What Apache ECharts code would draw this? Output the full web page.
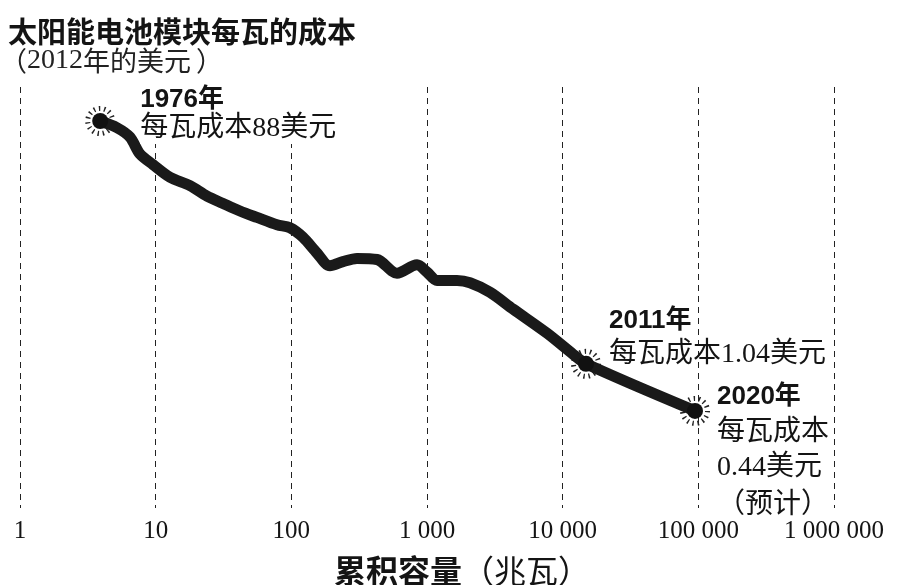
<!DOCTYPE html>
<html>
<head>
<meta charset="utf-8">
<script src="https://cdn.jsdelivr.net/npm/echarts@6/dist/echarts.min.js"></script>
<style>
  html, body { margin: 0; padding: 0; background: #fff; }
  #chart { width: 910px; height: 585px; }
</style>
</head>
<body>
<div id="chart"></div>
<script>
// Cumulative installed capacity, megawatts
const capacityMW = [3.9, 5.19, 6.47, 7.66, 9.56, 12.75, 17.9, 23.9, 31.4, 41.8, 55.8, 78.4,
  97.7, 121.9, 154.6, 192.7, 240.3, 304.8, 428, 601, 844, 1000, 1185, 1664, 2075, 2913,
  4303, 7663, 11920, 14860, 94500];
// Module cost per watt, 2012 US dollars
const costPerWatt = [88, 77.8, 65.5, 48.1, 39.7, 31.5, 27.0, 22.3, 19.5, 17.0, 15.1, 13.2,
  12.5, 10.5, 7.87, 6.24, 6.74, 7.14, 7.00, 5.45, 6.36, 5.56, 4.77, 4.77, 4.58, 3.85,
  2.83, 1.82, 1.24, 1.04, 0.44];
// Highlighted years
const milestoneYears = ['1976', '2011', '2020'];
const milestoneCapacity = [3.9, 14860, 94500];
const milestoneCost = [88, 1.04, 0.44];
// Decade tick labels of the capacity axis
const xTickLabels = ['1', '10', '100', '1 000', '10 000', '100 000', '1 000 000'];

const SANS = "'Liberation Sans', 'Noto Sans CJK SC', sans-serif";
const SERIF = "'Liberation Serif', 'Noto Sans CJK SC', serif";
const CJK = "'Noto Sans CJK SC', sans-serif";
const INK = '#141414';

const rich = {
  y1: { fontFamily: SANS, fontWeight: 'bold', fontSize: 26, lineHeight: 28, color: INK },
  y2: { fontFamily: SANS, fontWeight: 'bold', fontSize: 26, lineHeight: 38, color: INK },
  y3: { fontFamily: SANS, fontWeight: 'bold', fontSize: 26, lineHeight: 37, color: INK },
  c1: { fontFamily: SERIF, fontSize: 28, lineHeight: 30, color: INK },
  c3: { fontFamily: SERIF, fontSize: 28, lineHeight: 35, color: INK },
  p3: { fontFamily: CJK, fontSize: 28, lineHeight: 35, color: INK }
};

// label placement for each highlighted point (offset from the symbol box corner)
const labelLayouts = [
  { position: [48, -27], backgroundColor: '#fff',
    text: (y, c) => `{y1|${y}年}\n{c1|每瓦成本${c}美元}` },
  { position: [31, -54],
    text: (y, c) => `{y2|${y}年}\n{c1|每瓦成本${c}美元}` },
  { position: [30, -25],
    text: (y, c) => `{y3|${y}年}\n{c3|每瓦成本}\n{c3|${c}美元}\n{p3|（预计）}` }
];

const curveData = capacityMW.map((x, i) => [x, costPerWatt[i]]);
const haloData = milestoneCapacity.map((x, i) => [x, milestoneCost[i]]);
const dotData = milestoneCapacity.map((x, i) => ({
  value: [x, milestoneCost[i]],
  label: {
    show: true,
    position: labelLayouts[i].position,
    align: 'left',
    verticalAlign: 'top',
    opacity: 1,
    backgroundColor: labelLayouts[i].backgroundColor || 'transparent',
    formatter: labelLayouts[i].text(milestoneYears[i], milestoneCost[i]),
    rich: rich
  }
}));

const chart = echarts.init(document.getElementById('chart'), null, { renderer: 'canvas' });
chart.setOption({
  animation: false,
  backgroundColor: '#fff',
  title: [
    {
      text: '太阳能电池模块每瓦的成本',
      left: 8, top: 17, padding: 0,
      textStyle: { fontFamily: CJK, fontWeight: 'bold', fontSize: 29, color: INK }
    },
    {
      text: '{p|（}{d|2012}{c|年的美元} {p|）}',
      left: 0, top: 47, padding: 0,
      textStyle: {
        fontWeight: 'normal',
        rich: {
          p: { fontFamily: CJK, fontWeight: 'normal', fontSize: 27, color: '#222' },
          d: { fontFamily: SERIF, fontWeight: 'normal', fontSize: 28, color: '#222' },
          c: { fontFamily: CJK, fontWeight: 'normal', fontSize: 27, color: '#222' }
        }
      }
    }
  ],
  grid: { left: 20, right: 76, top: 87, bottom: 77, containLabel: false, outerBoundsMode: 'none' },
  xAxis: {
    type: 'log',
    logBase: 10,
    min: 1,
    max: 1000000,
    splitNumber: 6,
    axisLine: { show: false },
    axisTick: { show: false },
    axisLabel: {
      margin: 11,
      fontFamily: SERIF,
      fontSize: 25,
      color: INK,
      formatter: v => xTickLabels[Math.round(Math.log10(v))]
    },
    splitLine: {
      show: true,
      showMinLine: true,
      showMaxLine: true,
      lineStyle: { color: '#222', width: 1, type: [6, 5] }
    },
    name: '{b|累积容量}{n|（兆瓦）}',
    nameLocation: 'middle',
    nameGap: 47,
    nameTextStyle: {
      padding: [0, 0, 0, 70],
      rich: {
        b: { fontFamily: CJK, fontWeight: 'bold', fontSize: 32, color: INK },
        n: { fontFamily: CJK, fontWeight: 'normal', fontSize: 32, color: INK }
      }
    }
  },
  yAxis: {
    type: 'log',
    logBase: 10,
    min: 0.07464,
    max: 163.8,
    axisLine: { show: false },
    axisTick: { show: false },
    axisLabel: { show: false },
    splitLine: { show: false }
  },
  series: [
    {
      name: 'halo',
      type: 'scatter',
      data: haloData,
      symbol: 'circle',
      symbolSize: 25,
      silent: true,
      z: 2,
      itemStyle: {
        opacity: 1,
        color: 'rgba(0,0,0,0)',
        borderColor: '#222',
        borderWidth: 5,
        borderType: [1.4, 3.8]
      }
    },
    {
      name: 'cost',
      type: 'line',
      data: curveData,
      showSymbol: false,
      smooth: 0.3,
      z: 3,
      lineStyle: { color: '#1a1a1a', width: 11, cap: 'round', join: 'round' }
    },
    {
      name: 'milestones',
      type: 'scatter',
      data: dotData,
      symbol: 'circle',
      symbolSize: 16,
      z: 4,
      itemStyle: { color: '#111', opacity: 1 }
    }
  ]
});
</script>
</body>
</html>
